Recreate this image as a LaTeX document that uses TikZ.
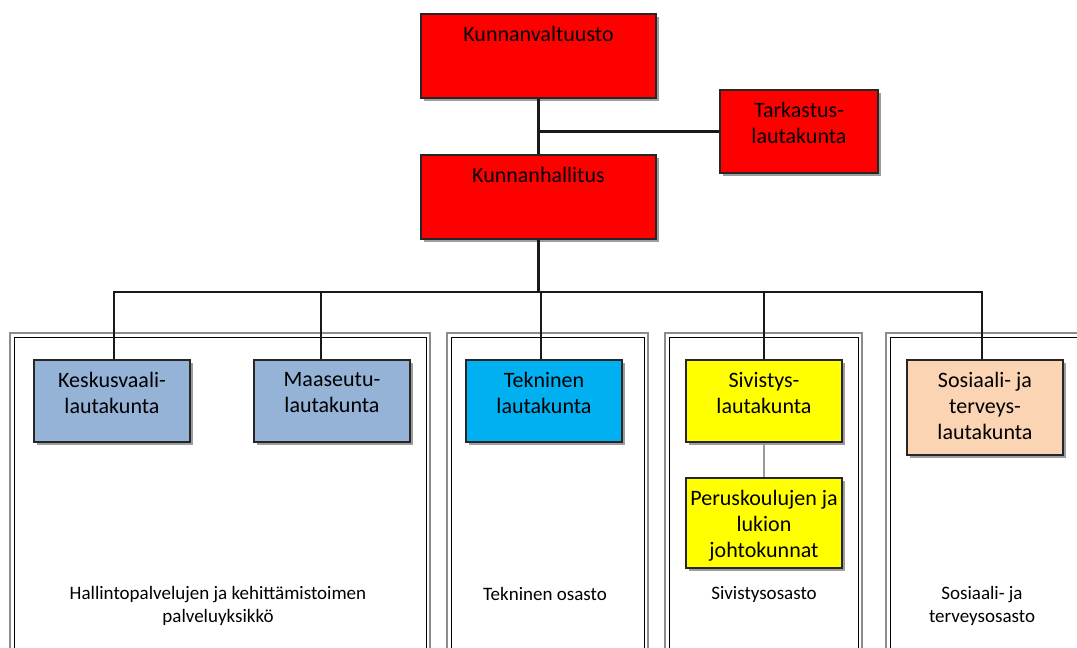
\documentclass[tikz,border=0pt]{standalone}
\usepackage{fontspec}
\setmainfont{Carlito}
\usetikzlibrary{shadows}
\definecolor{kred}{HTML}{FF0000}
\definecolor{kgrey}{HTML}{95B3D7}
\definecolor{kcyan}{HTML}{00B0F0}
\definecolor{kyellow}{HTML}{FFFF00}
\definecolor{kpeach}{HTML}{FBD4B4}
\tikzset{
    organ/.style={draw=black!85, line width=1.2pt, minimum width=156, minimum height=82,
        inner sep=0pt,
        drop shadow={shadow xshift=2.5pt, shadow yshift=-2.5pt, opacity=.55, fill=black!70}},
    topbox/.style={organ, minimum width=235, minimum height=84},
    boxtext/.style={anchor=north, yshift=-13pt, align=center, inner sep=0pt,
        font=\fontsize{22}{26}\selectfont},
    sector/.style={draw=black!45, line width=2.4pt},
    sectorin/.style={draw=black, line width=1pt},
    sectortext/.style={align=center, font=\fontsize{19}{23.5}\selectfont},
    link/.style={draw=black!90, line width=2.8pt}
}
\begin{document}
  \begin{tikzpicture}[x=1pt,y=-1pt]
    \useasboundingbox (0,0) rectangle (1077,648);
    \clip (0,0) rectangle (1077,648);
    % sectors
    \draw [sector] (10,333) rectangle (430,680); \draw [sectorin] (14,337) rectangle (426,680);
    \draw [sector] (447,333) rectangle (648,680); \draw [sectorin] (451,337) rectangle (644,680);
    \draw [sector] (665,333) rectangle (862,680); \draw [sectorin] (669,337) rectangle (858,680);
    \draw [sector] (886,333) rectangle (1100,680); \draw [sectorin] (890,337) rectangle (1100,680);
    \node [sectortext] (hallinto) at (218,606) {Hallintopalvelujen ja kehittämistoimen\\palveluyksikkö};
    \node [sectortext] (tekosasto) at (545,594) {Tekninen osasto};
    \node [sectortext] (sivosasto) at (764,594) {Sivistysosasto};
    \node [sectortext] (sososasto) at (982,606) {Sosiaali- ja\\terveysosasto};
    % boxes
    \node [topbox, fill=kred, label={[boxtext]north:Kunnanvaltuusto}] (valtuusto) at (538.5,56) {};
    \node [topbox, fill=kred, label={[boxtext]north:Kunnanhallitus}] (hallitus) at (538.5,197) {};
    \node [organ, fill=kred, minimum width=158, minimum height=83,
        label={[boxtext]north:Tarkastus-\\lautakunta}] (tarkastus) at (799,131.5) {};
    \node [organ, fill=kgrey, label={[boxtext]north:Keskusvaali-\\lautakunta}] (keskus) at (112,401) {};
    \node [organ, fill=kgrey, label={[boxtext]north:Maaseutu-\\lautakunta}] (maaseutu) at (332,401) {};
    \node [organ, fill=kcyan, label={[boxtext]north:Tekninen\\lautakunta}] (tekninen) at (544,401) {};
    \node [organ, fill=kyellow, label={[boxtext]north:Sivistys-\\lautakunta}] (sivistys) at (764,401) {};
    \node [organ, fill=kyellow, minimum height=90,
        label={[boxtext, yshift=0pt]north:Peruskoulujen ja\\lukion\\johtokunnat}] (perus) at (764,523) {};
    \node [organ, fill=kpeach, minimum height=95,
        label={[boxtext]north:Sosiaali- ja\\terveys-\\lautakunta}] (sosiaali) at (985,407.5) {};
    % links
    \coordinate (bus) at (538.5,292);
    \draw [link] (valtuusto.south) -- (hallitus.north);
    \draw [link, line width=2.2pt] (tarkastus.west) -- (tarkastus.west -| valtuusto.south);
    \draw [link] (hallitus.south) -- (bus);
    \draw [link] ([xshift=2pt]keskus.north) |- (bus) -| ([xshift=-3pt]sosiaali.north);
    \draw [link] ([xshift=-11pt]maaseutu.north) -- ([xshift=-11pt]maaseutu.north |- bus);
    \draw [link] ([xshift=-3pt]tekninen.north) -- ([xshift=-3pt]tekninen.north |- bus);
    \draw [link] (sivistys.north) -- (sivistys.north |- bus);
    \draw [draw=black!40, line width=1.2pt] (sivistys.south) -- (perus.north);
  \end{tikzpicture}
\end{document}
